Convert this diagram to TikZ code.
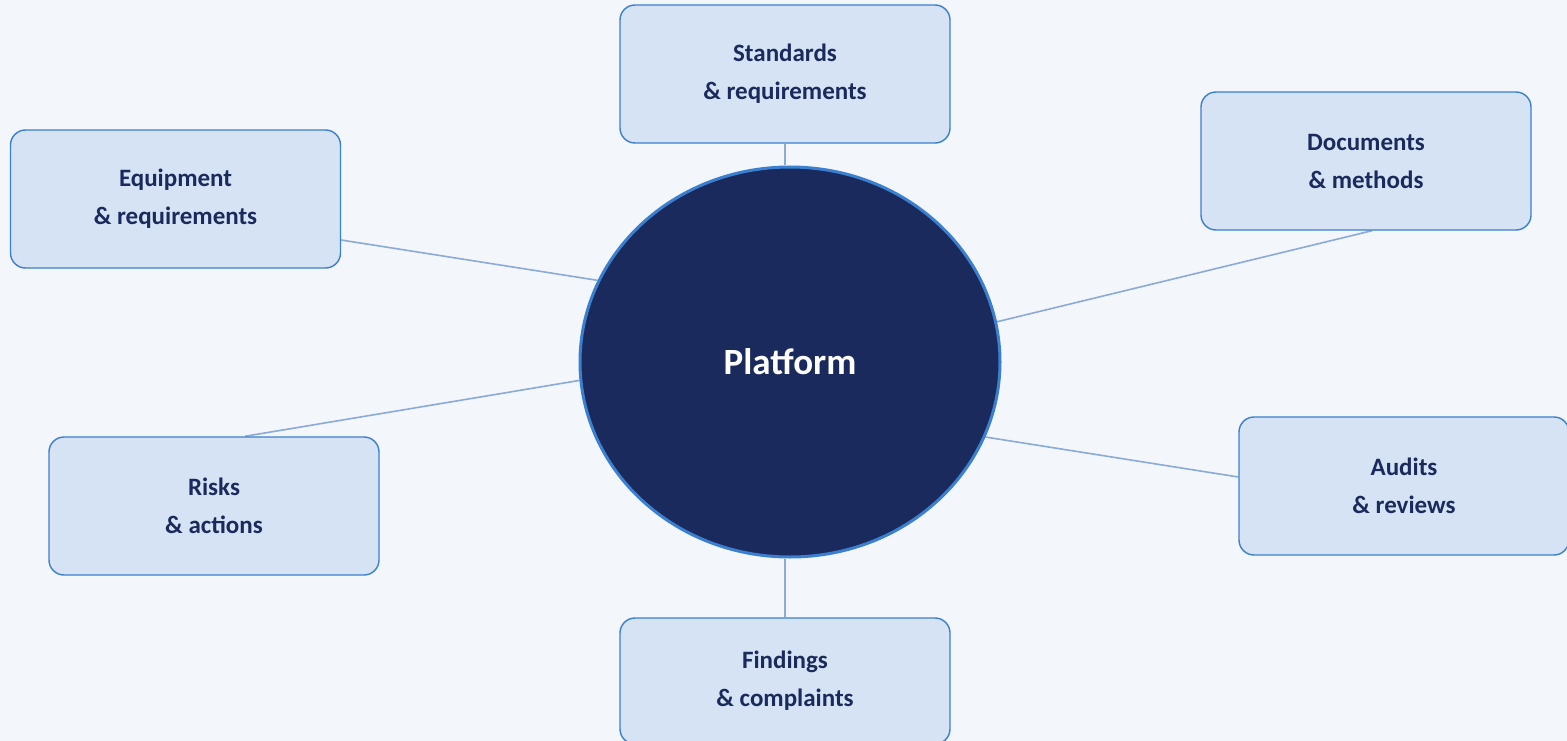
\documentclass[tikz,border=0pt]{standalone}
\usepackage{fontspec}
\setmainfont{Carlito}
\usepackage{xcolor}
\usetikzlibrary{shapes.geometric, backgrounds}

\definecolor{pagebg}{HTML}{F3F6FB}
\definecolor{boxfill}{HTML}{D5E3F5}
\definecolor{boxline}{HTML}{3A7FD0}
\definecolor{navy}{HTML}{1B2A5C}
\definecolor{linkcol}{HTML}{8AAAD8}

\begin{document}
\begin{tikzpicture}[
    x=1pt, y=-1pt,
    every node/.style={align=center},
    topic/.style={rectangle, rounded corners=15pt, minimum width=330pt, minimum height=138pt, text centered, draw=boxline, line width=1.4pt, fill=boxfill, text=navy, font=\bfseries\fontsize{25}{38}\selectfont},
    hubnode/.style={ellipse, minimum width=420pt, minimum height=390pt, draw=boxline, line width=3pt, fill=navy, text=white, font=\bfseries\fontsize{37}{40}\selectfont},
    link/.style={draw=linkcol, line width=1.6pt}
]

\useasboundingbox (0,0) rectangle (1567,741);

% Page
\begin{scope}[on background layer]
\fill[pagebg] (0,0) rectangle (1567,741);
\end{scope}

% Centre
\node (hub) [hubnode] at (790,362) {Platform};

% Topics
\node (stand) [topic] at (785,74) {Standards\\\& requirements};
\node (equip) [topic] at (175.5,199) {Equipment\\\& requirements};
\node (docs) [topic] at (1366,161) {Documents\\\& methods};
\node (risks) [topic] at (214,506) {Risks\\\& actions};
\node (audit) [topic] at (1404,486) {Audits\\\& reviews};
\node (find) [topic, minimum height=126pt] at (785,681) {Findings\\\& complaints};

% Links
\begin{scope}[on background layer]
\draw [link] (stand.south) -- (stand.south |- hub.north);
\draw [link] ([yshift=-41pt]equip.east) -- (hub.157);
\draw [link] ([xshift=6pt]docs.south) -- (hub.11);
\draw [link] ([xshift=31pt]risks.north) -- (hub.185);
\draw [link] ([yshift=9pt]audit.west) -- (hub.-21);
\draw [link] (hub.south -| find.north) -- (find.north);
\end{scope}

\end{tikzpicture}
\end{document}
